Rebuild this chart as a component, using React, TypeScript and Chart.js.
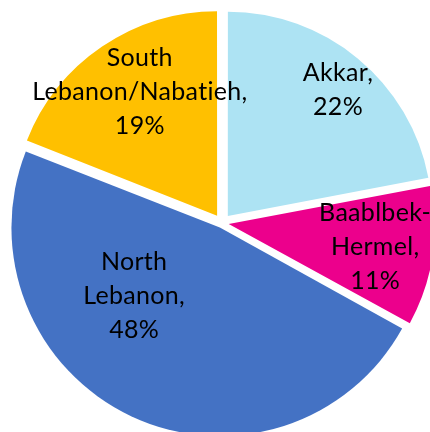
import React, { useEffect, useRef } from "react";
import { Chart, registerables } from "chart.js";

Chart.register(...registerables);

const categories = ["Akkar", "Baablbek-Hermel", "North Lebanon", "South Lebanon/Nabatieh"];
const values = [22, 11, 48, 19];
const labelLines = [
  ["Akkar,", "22%"],
  ["Baablbek-", "Hermel,", "11%"],
  ["North", "Lebanon,", "48%"],
  ["South", "Lebanon/Nabatieh,", "19%"],
];
const colors = ["#ADE3F3", "#EC008C", "#4472C4", "#FFC000"];
const explode = [36.6, 27.2, 20.2, 34.8];

// label placement: [angle shift (deg), radius fraction]
const placement = [
  [1.5, 0.865],
  [0, 0.76],
  [25.1, 0.56],
  [2.2, 0.76],
];

const labelPlugin = {
  id: "sliceLabels",
  afterDatasetsDraw(chart: any) {
    const ctx = chart.ctx;
    const meta = chart.getDatasetMeta(0);
    ctx.save();
    ctx.font = "25px Lato";
    (ctx as any).letterSpacing = "0.3px";
    ctx.fillStyle = "#000";
    ctx.textAlign = "center";
    ctx.textBaseline = "middle";
    const lh = 34;
    meta.data.forEach((arc: any, i: number) => {
      const { x, y, startAngle, endAngle, outerRadius } = arc.getProps(
        ["x", "y", "startAngle", "endAngle", "outerRadius"],
        true
      );
      const mid = (startAngle + endAngle) / 2 + (placement[i][0] * Math.PI) / 180;
      const r = outerRadius * placement[i][1];
      const cx = x + Math.cos(mid) * r;
      const cy = y + Math.sin(mid) * r;
      const lines = labelLines[i];
      lines.forEach((t, k) => {
        ctx.fillText(t, cx, cy + (k - (lines.length - 1) / 2) * lh);
      });
    });
    ctx.restore();
  },
};

export default function App() {
  const ref = useRef<HTMLCanvasElement>(null);
  useEffect(() => {
    const chart = new Chart(ref.current!, {
      type: "pie",
      data: {
        labels: categories,
        datasets: [
          {
            data: values,
            backgroundColor: colors,
            borderWidth: 0,
            offset: explode,
            radius: 204,
          } as any,
        ],
      },
      options: {
        animation: false,
        responsive: false,
        layout: { padding: { left: 14, top: 14, right: 0, bottom: 0 } },
        plugins: { legend: { display: false }, tooltip: { enabled: false } },
      },
      plugins: [labelPlugin],
    });
    return () => chart.destroy();
  }, []);
  return (
    <div style={{ position: "absolute", left: 0, top: 0, width: 430, height: 432, background: "#fff" }}>
      <canvas ref={ref} width={430} height={432} />
    </div>
  );
}
